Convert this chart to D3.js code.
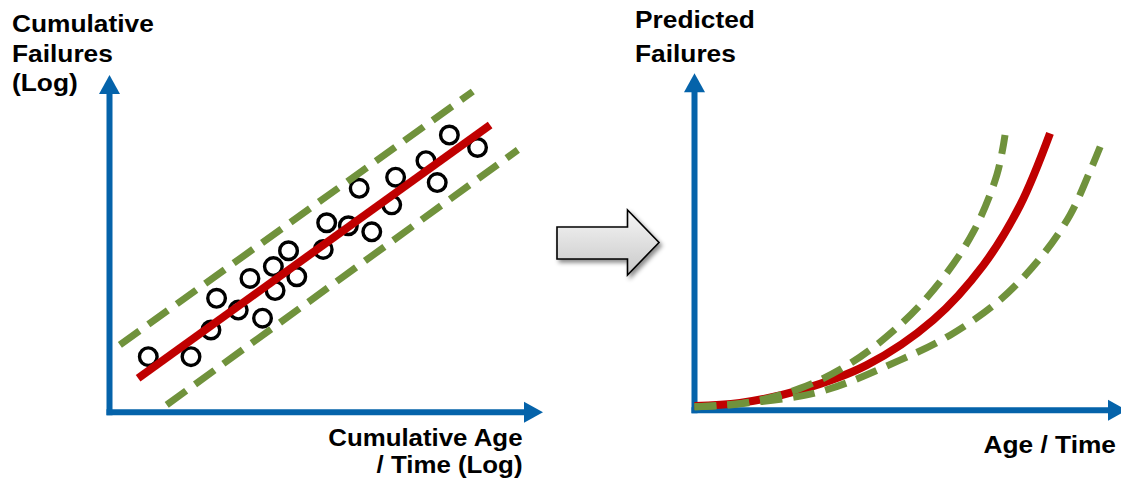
<!DOCTYPE html>
<html>
<head>
<meta charset="utf-8">
<script src="https://cdn.jsdelivr.net/npm/d3@7"></script>
<style>
  html, body { margin: 0; padding: 0; background: #ffffff; }
  svg { display: block; }
  text { font-family: "Liberation Sans", Arial, sans-serif; font-weight: bold; fill: #000; }
</style>
</head>
<body>
<svg id="chart" width="1121" height="481"></svg>
<script>
// ---- Left panel: observed failures on log-log axes ----
const obsAge      = [8.95, 18.8, 23.4, 24.7, 29.7, 32.4, 35.3, 37.8, 38.2, 41.3, 43.2,
                     49.3, 50.1, 55.1, 60.5, 57.6, 65.1, 66.0, 73.0, 75.6, 78.4, 84.9];
const obsFailures = [16.5, 16.5, 24.4, 33.8, 30.3, 39.7, 27.9, 43.2, 36.1, 47.9, 40.2,
                     48.3, 56.2, 55.3, 53.5, 66.4, 61.5, 69.7, 74.6, 68.1, 82.2, 78.5];

// fitted line and confidence bounds (start / end on the log scales)
const fitAge        = [6.6, 87.8];
const fitFailures   = [10.1, 85.2];
const upperAge      = [2.4, 83.8];
const upperFailures = [20.0, 95.1];
const lowerAge      = [13.2, 94.2];
const lowerFailures = [2.2, 77.8];

// ---- Right panel: predicted failures on linear axes ----
const predAge        = [0, 10.5, 24.4, 39.8, 55.2, 66.8, 75.3, 82.2];
const predFailures   = [1.3, 2.2, 6.0, 13.4, 26.8, 43.1, 60.9, 82.2];
const predUpAge      = [0, 10.5, 24.4, 36.0, 47.5, 56.8, 64.5, 69.9, 71.8];
const predUpFailures = [1.1, 1.9, 6.5, 13.9, 25.3, 38.2, 53.0, 69.8, 81.7];
const predLoAge      = [0, 27.5, 47.5, 59.1, 70.6, 79.9, 86.8, 91.4, 93.8];
const predLoFailures = [1.0, 5.0, 14.9, 22.3, 32.7, 45.1, 57.9, 70.8, 78.2];

// axis titles
const leftYTitle  = ["Cumulative", "Failures", "(Log)"];
const leftXTitle  = ["Cumulative Age", "/ Time (Log)"];
const rightYTitle = ["Predicted", "Failures"];
const rightXTitle = ["Age / Time"];

const AXIS = "#0563aa", RED = "#c00000", GREEN = "#70923c";

const svg = d3.select("#chart");
const defs = svg.append("defs");

// scales (range ends sit at the arrow tips)
const xL = d3.scaleLinear().domain([0, 100]).range([109.5, 543]);
const yL = d3.scaleLinear().domain([0, 100]).range([412.3, 75]);
const xR = d3.scaleLinear().domain([0, 100]).range([694.5, 1127]);
const yR = d3.scaleLinear().domain([0, 100]).range([410.3, 73.3]);

// axis with arrowhead, drawn from scale ranges
function drawAxes(g, x, y) {
  const x0 = x.range()[0], x1 = x.range()[1];
  const y0 = y.range()[0], y1 = y.range()[1];
  const w = 6, headL = 19, headW = 10.5;
  g.append("line").attr("x1", x0).attr("x2", x0)
    .attr("y1", y0 + w / 2).attr("y2", y1 + headL - 0.5)
    .attr("stroke", AXIS).attr("stroke-width", w);
  g.append("path").attr("fill", AXIS)
    .attr("d", `M${x0 - headW},${y1 + headL}L${x0 + headW},${y1 + headL}L${x0},${y1}Z`);
  g.append("line").attr("y1", y0).attr("y2", y0)
    .attr("x1", x0 - w / 2).attr("x2", x1 - headL + 0.5)
    .attr("stroke", AXIS).attr("stroke-width", w);
  g.append("path").attr("fill", AXIS)
    .attr("d", `M${x1 - headL},${y0 - headW}L${x1 - headL},${y0 + headW}L${x1},${y0}Z`);
}

function title(lines, x, baselines, anchor, size, sx) {
  lines.forEach((t, i) => {
    svg.append("text")
      .attr("transform", `translate(${x},${baselines[i]}) scale(${sx},1)`)
      .attr("text-anchor", anchor)
      .style("font-size", size + "px")
      .text(t);
  });
}

// ---------- left panel ----------
const gL = svg.append("g");
drawAxes(gL, xL, yL);

gL.selectAll("circle.obs")
  .data(d3.zip(obsAge, obsFailures))
  .join("circle")
  .attr("class", "obs")
  .attr("cx", d => xL(d[0])).attr("cy", d => yL(d[1]))
  .attr("r", 8.8)
  .attr("fill", "none").attr("stroke", "#000").attr("stroke-width", 3.4);

const straight = d3.line().x(d => xL(d[0])).y(d => yL(d[1]));
gL.append("path").datum(d3.zip(upperAge, upperFailures))
  .attr("d", straight).attr("fill", "none")
  .attr("stroke", GREEN).attr("stroke-width", 7).attr("stroke-dasharray", "24 11");
gL.append("path").datum(d3.zip(lowerAge, lowerFailures))
  .attr("d", straight).attr("fill", "none")
  .attr("stroke", GREEN).attr("stroke-width", 7).attr("stroke-dasharray", "24 11");
gL.append("path").datum(d3.zip(fitAge, fitFailures))
  .attr("d", straight).attr("fill", "none")
  .attr("stroke", RED).attr("stroke-width", 8);

// ---------- transition arrow ----------
const grad = defs.append("linearGradient").attr("id", "arrowFill")
  .attr("x1", 0).attr("y1", 0).attr("x2", 0).attr("y2", 1);
grad.append("stop").attr("offset", "0%").attr("stop-color", "#f6f6f6");
grad.append("stop").attr("offset", "100%").attr("stop-color", "#c9c9c9");
const shadow = defs.append("filter").attr("id", "arrowShadow")
  .attr("x", "-20%").attr("y", "-20%").attr("width", "150%").attr("height", "150%");
shadow.append("feDropShadow").attr("dx", 2.5).attr("dy", 3).attr("stdDeviation", 2.2)
  .attr("flood-color", "#000").attr("flood-opacity", 0.45);

const arrowShape = [[557, 227], [627.5, 227], [627.5, 210], [659, 242.5],
                    [627.5, 275], [627.5, 259], [557, 259]];
svg.append("path")
  .attr("d", d3.line()(arrowShape) + "Z")
  .attr("fill", "url(#arrowFill)")
  .attr("stroke", "#000").attr("stroke-width", 1.6).attr("stroke-linejoin", "miter")
  .attr("filter", "url(#arrowShadow)");

// ---------- right panel ----------
const gR = svg.append("g");
drawAxes(gR, xR, yR);

const curve = d3.line().x(d => xR(d[0])).y(d => yR(d[1])).curve(d3.curveCatmullRom.alpha(0.5));
gR.append("path").datum(d3.zip(predAge, predFailures))
  .attr("d", curve).attr("fill", "none")
  .attr("stroke", RED).attr("stroke-width", 8);
gR.append("path").datum(d3.zip(predUpAge, predUpFailures))
  .attr("d", curve).attr("fill", "none")
  .attr("stroke", GREEN).attr("stroke-width", 7).attr("stroke-dasharray", "22 11");
gR.append("path").datum(d3.zip(predLoAge, predLoFailures))
  .attr("d", curve).attr("fill", "none")
  .attr("stroke", GREEN).attr("stroke-width", 7).attr("stroke-dasharray", "22 11");

// ---------- titles ----------
title(leftYTitle, 12, [32, 61.7, 90.7], "start", 23.5, 1.12);
title(rightYTitle, 635, [28.3, 61.7], "start", 23.5, 1.12);
title(leftXTitle, 522.5, [446, 473], "end", 23.5, 1.1);
title(rightXTitle, 1116, [452.5], "end", 23.5, 1.12);
</script>
</body>
</html>
